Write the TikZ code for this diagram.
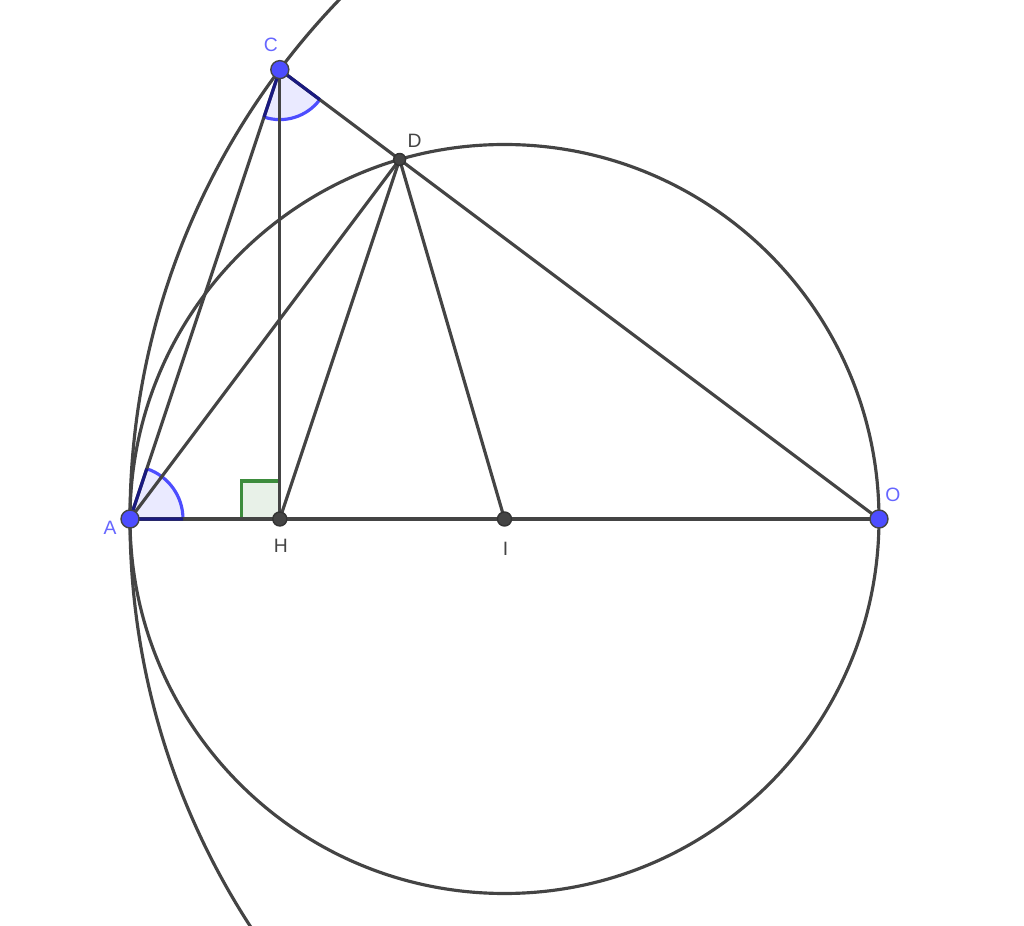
\documentclass[tikz,border=0pt]{standalone}
\usepackage{fontspec}
\setmainfont{Liberation Sans}
\usetikzlibrary{calc}
\definecolor{ggline}{HTML}{444444}
\definecolor{ggblue}{HTML}{4D4DFF}
\definecolor{gglbl}{HTML}{6666FF}
\definecolor{ggnavy}{HTML}{1A1A80}
\definecolor{gggreen}{HTML}{3D8C3D}
\begin{document}
\begin{tikzpicture}[
        seg/.style={draw=ggline, line width=0.9pt},
        bpt/.style={circle, fill=ggblue, draw=ggline, line width=0.4pt, inner sep=0pt, minimum size=0.18cm},
        gpt/.style={circle, fill=ggline, draw=black!80, line width=0.4pt, inner sep=0pt, minimum size=0.14cm},
        spt/.style={circle, fill=ggline, draw=black!80, line width=0.4pt, inner sep=0pt, minimum size=0.12cm},
        blbl/.style={text=gglbl, font=\fontsize{5.5}{6}\selectfont, inner sep=0pt},
        glbl/.style={text=ggline, font=\fontsize{5.5}{6}\selectfont, inner sep=0pt},
        angfill/.style={fill=ggblue!12},
        angarc/.style={draw=ggblue, line width=0.9pt},
        angrad/.style={draw=ggnavy, line width=0.9pt}
    ]
    \useasboundingbox (0,0) rectangle (10.24,9.26);

    % the construction
    \coordinate (A) at (1.30,4.07);
    \coordinate (O) at (8.79,4.07);
    \coordinate (I) at ($(A)!0.5!(O)$);
    \coordinate (C) at ($(O)+(143.13:7.49)$);
    \coordinate (H) at (C |- A);
    \coordinate (D) at ($(C)!(A)!(O)$);

    % angle marks
    \fill[angfill] (A) -- ++(0:0.53) arc (0:71.55:0.53) -- cycle;
    \draw[angarc] ($(A)+(0:0.53)$) arc (0:71.55:0.53);
    \fill[angfill] (C) -- ++(251.55:0.50) arc (251.55:323.13:0.50) -- cycle;
    \draw[angarc] ($(C)+(251.55:0.50)$) arc (251.55:323.13:0.50);
    \filldraw[fill=gggreen!12, draw=gggreen, line width=0.9pt]
        (H) rectangle ++(-0.38,0.38);

    % circles
    \begin{scope}
        \clip (0,0) rectangle (10.24,9.26);
        \draw[seg] (O) circle (7.49);
    \end{scope}
    \draw[seg] (I) circle (3.745);

    % segments
    \draw[seg] (A) -- (O);
    \draw[seg] (A) -- (C);
    \draw[seg] (C) -- (O);
    \draw[seg] (C) -- (H);
    \draw[seg] (A) -- (D);
    \draw[seg] (H) -- (D);
    \draw[seg] (I) -- (D);

    % angle sides on top
    \draw[angrad] ($(A)+(71.55:0.53)$) -- (A) -- ++(0:0.53);
    \draw[angrad] ($(C)+(323.13:0.50)$) -- (C) -- ++(251.55:0.50);

    % points
    \node[bpt] (pA) at (A) {};
    \node[bpt] (pC) at (C) {};
    \node[bpt] (pO) at (O) {};
    \node[gpt] (pH) at (H) {};
    \node[gpt] (pI) at (I) {};
    \node[spt] (pD) at (D) {};

    % labels
    \node[blbl] (lA) at ($(A)+(-0.20,-0.09)$) {A};
    \node[blbl] (lC) at ($(C)+(-0.09,0.25)$) {C};
    \node[blbl] (lO) at ($(O)+(0.14,0.24)$) {O};
    \node[glbl] (lD) at ($(D)+(0.15,0.19)$) {D};
    \node[glbl] (lH) at ($(H)+(0.01,-0.27)$) {H};
    \node[glbl] (lI) at ($(I)+(0.01,-0.30)$) {I};
\end{tikzpicture}
\end{document}
